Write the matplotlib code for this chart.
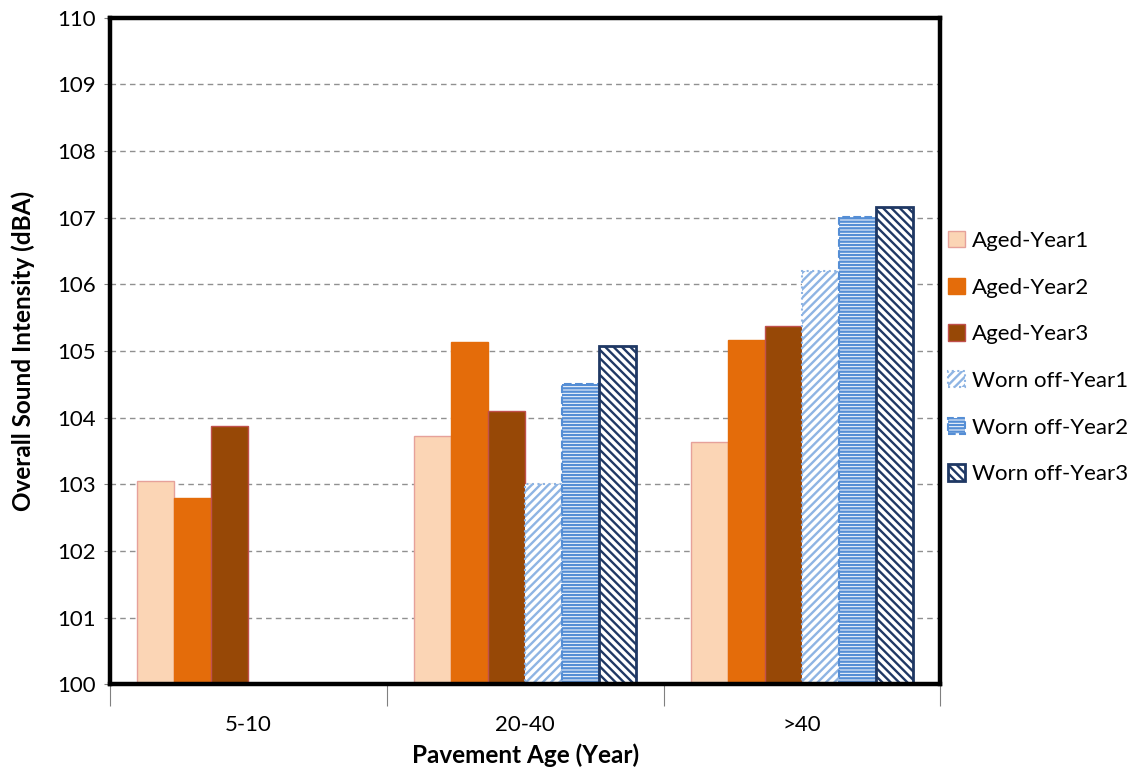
import numpy as np
import matplotlib.pyplot as plt
from matplotlib.ticker import FixedLocator

plt.rcParams['font.family'] = ['Lato', 'DejaVu Sans']
plt.rcParams['hatch.linewidth'] = 1.7

categories = ['5-10', '20-40', '>40']
series = ['Aged-Year1', 'Aged-Year2', 'Aged-Year3',
          'Worn off-Year1', 'Worn off-Year2', 'Worn off-Year3']
aged_y1 = [103.05, 103.73, 103.63]
aged_y2 = [102.80, 105.13, 105.17]
aged_y3 = [103.88, 104.10, 105.38]
worn_y1 = [np.nan, 103.00, 106.20]
worn_y2 = [np.nan, 104.50, 107.01]
worn_y3 = [np.nan, 105.08, 107.16]
values = [aged_y1, aged_y2, aged_y3, worn_y1, worn_y2, worn_y3]

styles = [
    dict(color='#FBD5B5', edgecolor='#E6A19A', linewidth=1.0),
    dict(color='#E46C0A', edgecolor='#E46C0A', linewidth=1.0),
    dict(color='#974806', edgecolor='#C0504D', linewidth=1.0),
    dict(facecolor='white', edgecolor='#8EB4E3', hatch='////', linestyle=':', linewidth=1.5),
    dict(facecolor='white', edgecolor='#558ED5', hatch='-----', linestyle='--', linewidth=1.5),
    dict(facecolor='white', edgecolor='#1F3864', hatch='\\\\\\\\', linestyle='-', linewidth=2.0),
]

fig = plt.figure(figsize=(11.33, 7.74), dpi=100)
ax = fig.add_axes([0.097, 0.116, 0.733, 0.861])

x = np.arange(len(categories))
w = 0.134
for i, (name, vals, st) in enumerate(zip(series, values, styles)):
    ax.bar(x + (i - 2.5) * w, np.array(vals) - 100, bottom=100, width=w,
           label=name, zorder=3, **st)

ax.set_xlim(-0.5, 2.5)
ax.set_ylim(100, 110)
ax.set_yticks(np.arange(100, 111, 1))
ax.yaxis.grid(True, linestyle=(0, (4, 3)), color='#909090', linewidth=1.0, zorder=0)
ax.set_axisbelow(True)

ax.set_xticks(x)
ax.set_xticklabels(categories)
ax.xaxis.set_minor_locator(FixedLocator([-0.5, 0.5, 1.5, 2.5]))
ax.tick_params(axis='x', which='major', length=0, pad=22, labelsize=16)
ax.tick_params(axis='x', which='minor', length=16, width=0.8, color='#808080')
ax.tick_params(axis='y', length=4, width=0.8, color='#808080', labelsize=16, pad=6)

for sp in ax.spines.values():
    sp.set_linewidth(3.2)
    sp.set_color('black')
    sp.set_zorder(5)

ax.set_ylabel('Overall Sound Intensity (dBA)', fontsize=17.5, fontweight='bold', labelpad=16)
ax.set_xlabel('Pavement Age (Year)', fontsize=17.5, fontweight='bold', labelpad=6)

ax.legend(loc='center left', bbox_to_anchor=(0.993, 0.49), frameon=False,
          fontsize=16, labelspacing=1.2, handlelength=0.75, handleheight=0.75,
          handletextpad=0.35, borderaxespad=0.2)

plt.savefig('out.png', dpi=100)
